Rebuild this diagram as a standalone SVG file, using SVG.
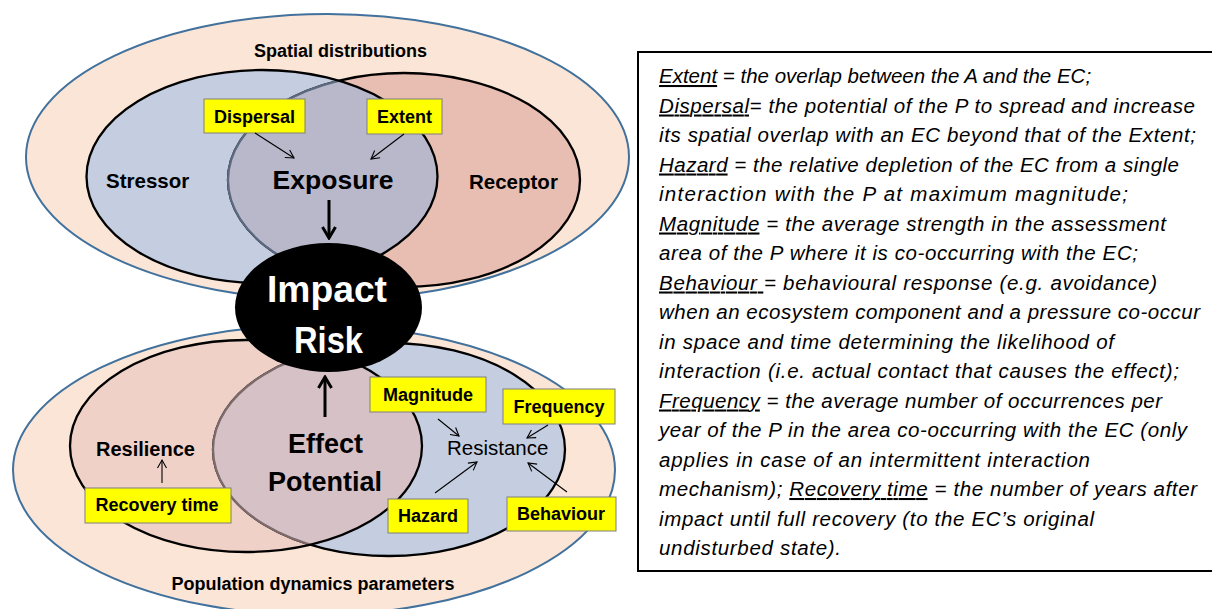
<svg xmlns="http://www.w3.org/2000/svg" width="1212" height="609" viewBox="0 0 1212 609">
<defs>
<style>
.outer{fill:#fbe5d6;stroke:#41719c;stroke-width:2}
.lbl{font-family:"Liberation Sans",Arial,sans-serif;font-weight:bold;fill:#000}
.box{fill:#ffff00;stroke:#7f7f7f;stroke-width:1}
.boxt{font-family:"Liberation Sans",Arial,sans-serif;font-weight:bold;font-size:18px;text-anchor:middle;fill:#000}
.big{font-family:"Liberation Sans",Arial,sans-serif;font-weight:bold;text-anchor:middle;fill:#000}
.thin{stroke:#000;stroke-width:1.1;fill:none;marker-end:url(#ah)}
.thick{stroke:#000;stroke-width:3;fill:none;marker-end:url(#ahb)}
.def{font-family:"Liberation Sans",Arial,sans-serif;font-style:italic;font-size:20.5px;fill:#000}
</style>
<marker id="ah" viewBox="-10 -6 12 12" markerWidth="12" markerHeight="12" refX="0" refY="0" orient="auto" markerUnits="userSpaceOnUse">
<path d="M-8,-4.5 L0,0 L-8,4.5" fill="none" stroke="#000" stroke-width="1.1"/>
</marker>
<marker id="ahb" viewBox="-14 -9 16 18" markerWidth="16" markerHeight="18" refX="0" refY="0" orient="auto" markerUnits="userSpaceOnUse">
<path d="M-11,-6.5 L0,0 L-11,6.5" fill="none" stroke="#000" stroke-width="3"/>
</marker>
<clipPath id="clipStressor"><ellipse cx="262" cy="176.5" rx="175.5" ry="106.5"/></clipPath>
<clipPath id="clipResilience"><ellipse cx="246" cy="446" rx="176" ry="106"/></clipPath>
</defs>

<g id="spatial-distributions">
<ellipse class="outer" cx="327.5" cy="157" rx="301.5" ry="143"/>
<text class="lbl" x="340.5" y="57" font-size="18" text-anchor="middle">Spatial distributions</text>
</g>

<g id="stressor-receptor">
<ellipse cx="262" cy="176.5" rx="175.5" ry="106.5" fill="#c4cee0"/>
<ellipse cx="404" cy="180" rx="176" ry="107" fill="#e8bdb2" stroke="#000" stroke-width="2.3"/>
<ellipse cx="404" cy="180" rx="176" ry="107" fill="#b9b8cb" stroke="#5b6a80" stroke-width="2.3" clip-path="url(#clipStressor)"/>
<ellipse cx="262" cy="176.5" rx="175.5" ry="106.5" fill="none" stroke="#000" stroke-width="2.3"/>
</g>

<g id="stressor"><text class="lbl" x="106" y="188" font-size="20.5">Stressor</text></g>
<g id="receptor"><text class="lbl" x="469" y="189" font-size="20.5">Receptor</text></g>
<g id="exposure"><text class="big" x="333" y="189" font-size="26.5">Exposure</text></g>

<g id="dispersal">
<rect class="box" x="204" y="99" width="101" height="34"/>
<text class="boxt" x="254.5" y="123">Dispersal</text>
</g>
<g id="extent">
<rect class="box" x="367" y="99" width="75" height="35"/>
<text class="boxt" x="404.5" y="123">Extent</text>
</g>

<g id="population-dynamics">
<ellipse class="outer" cx="314" cy="470" rx="301" ry="145"/>
<text class="lbl" x="313" y="590" font-size="18" text-anchor="middle">Population dynamics parameters</text>
</g>

<g id="resilience-resistance">
<ellipse cx="246" cy="446" rx="176" ry="106" fill="#efd1c8"/>
<ellipse cx="389" cy="449.5" rx="176" ry="106.5" fill="#c5cee0" stroke="#000" stroke-width="2.3"/>
<ellipse cx="389" cy="449.5" rx="176" ry="106.5" fill="#d6c1c7" stroke="#7d6b6b" stroke-width="2.3" clip-path="url(#clipResilience)"/>
<ellipse cx="246" cy="446" rx="176" ry="106" fill="none" stroke="#000" stroke-width="2.3"/>
</g>

<g id="impact-risk">
<ellipse cx="328.5" cy="307.5" rx="93.5" ry="64.5" fill="#000"/>
<text class="big" x="327" y="302" font-size="36" style="fill:#fff" textLength="120" lengthAdjust="spacingAndGlyphs">Impact</text>
<text class="big" x="328.5" y="353" font-size="36" style="fill:#fff" textLength="69" lengthAdjust="spacingAndGlyphs">Risk</text>
</g>

<g id="effect-potential">
<text class="big" x="325.5" y="453" font-size="27">Effect</text>
<text class="big" x="325" y="491" font-size="27">Potential</text>
</g>

<g id="resilience"><text class="lbl" x="96" y="456" font-size="20">Resilience</text></g>
<g id="resistance"><text x="447" y="455" font-family="Liberation Sans, Arial, sans-serif" font-size="20.5" fill="#000">Resistance</text></g>

<g id="magnitude">
<rect class="box" x="370" y="377" width="116" height="35"/>
<text class="boxt" x="428" y="401">Magnitude</text>
</g>
<g id="frequency">
<rect class="box" x="503" y="389" width="112" height="35"/>
<text class="boxt" x="559" y="413">Frequency</text>
</g>
<g id="recovery-time">
<rect class="box" x="85" y="488" width="146" height="35"/>
<text class="boxt" x="157" y="511">Recovery time</text>
</g>
<g id="hazard">
<rect class="box" x="388" y="499" width="80" height="34"/>
<text class="boxt" x="428" y="522">Hazard</text>
</g>
<g id="behaviour">
<rect class="box" x="507" y="497" width="109" height="34"/>
<text class="boxt" x="561" y="520">Behaviour</text>
</g>

<g id="connectors">
<line class="thin" x1="255" y1="133" x2="294" y2="158"/>
<line class="thin" x1="404" y1="134" x2="371" y2="159"/>
<line class="thin" x1="162" y1="483" x2="162" y2="460"/>
<line class="thin" x1="438" y1="419" x2="459" y2="436"/>
<line class="thin" x1="548" y1="425" x2="527" y2="438"/>
<line class="thin" x1="435" y1="493" x2="477" y2="462"/>
<line class="thin" x1="567" y1="492" x2="528" y2="463"/>
<line class="thick" x1="329" y1="200" x2="329" y2="238"/>
<line class="thick" x1="325" y1="417" x2="325" y2="377"/>
</g>

<g id="definitions">
<rect x="638" y="52" width="580" height="519" fill="#fff" stroke="#000" stroke-width="2"/>
<text class="def" x="659" y="83"><tspan text-decoration="underline">Extent</tspan> = the overlap between the A and the EC;</text>
<text class="def" x="659" y="112.5" textLength="536" lengthAdjust="spacing"><tspan text-decoration="underline">Dispersal</tspan>= the potential of the P to spread and increase</text>
<text class="def" x="659" y="142" textLength="537" lengthAdjust="spacing">its spatial overlap with an EC beyond that of the Extent;</text>
<text class="def" x="659" y="171.5" textLength="520" lengthAdjust="spacing"><tspan text-decoration="underline">Hazard</tspan> = the relative depletion of the EC from a single</text>
<text class="def" x="659" y="201" textLength="469" lengthAdjust="spacing">interaction with the P at maximum magnitude;</text>
<text class="def" x="659" y="230.5" textLength="507" lengthAdjust="spacing"><tspan text-decoration="underline">Magnitude</tspan> = the average strength in the assessment</text>
<text class="def" x="659" y="260" textLength="479" lengthAdjust="spacing">area of the P where it is co-occurring with the EC;</text>
<text class="def" x="659" y="289.5" textLength="498" lengthAdjust="spacing"><tspan text-decoration="underline">Behaviour </tspan>= behavioural response (e.g. avoidance)</text>
<text class="def" x="659" y="319" textLength="541" lengthAdjust="spacing">when an ecosystem component and a pressure co-occur</text>
<text class="def" x="659" y="348.5" textLength="455" lengthAdjust="spacing">in space and time determining the likelihood of</text>
<text class="def" x="659" y="378" textLength="520" lengthAdjust="spacing">interaction (i.e. actual contact that causes the effect);</text>
<text class="def" x="659" y="407.5" textLength="503" lengthAdjust="spacing"><tspan text-decoration="underline">Frequency</tspan> = the average number of occurrences per</text>
<text class="def" x="659" y="437" textLength="528" lengthAdjust="spacing">year of the P in the area co-occurring with the EC (only</text>
<text class="def" x="659" y="466.5" textLength="431" lengthAdjust="spacing">applies in case of an intermittent interaction</text>
<text class="def" x="659" y="496" textLength="538" lengthAdjust="spacing">mechanism); <tspan text-decoration="underline">Recovery time</tspan> = the number of years after</text>
<text class="def" x="659" y="525.5" textLength="435" lengthAdjust="spacing">impact until full recovery (to the EC’s original</text>
<text class="def" x="659" y="555" textLength="182" lengthAdjust="spacing">undisturbed state).</text>
</g>
</svg>
